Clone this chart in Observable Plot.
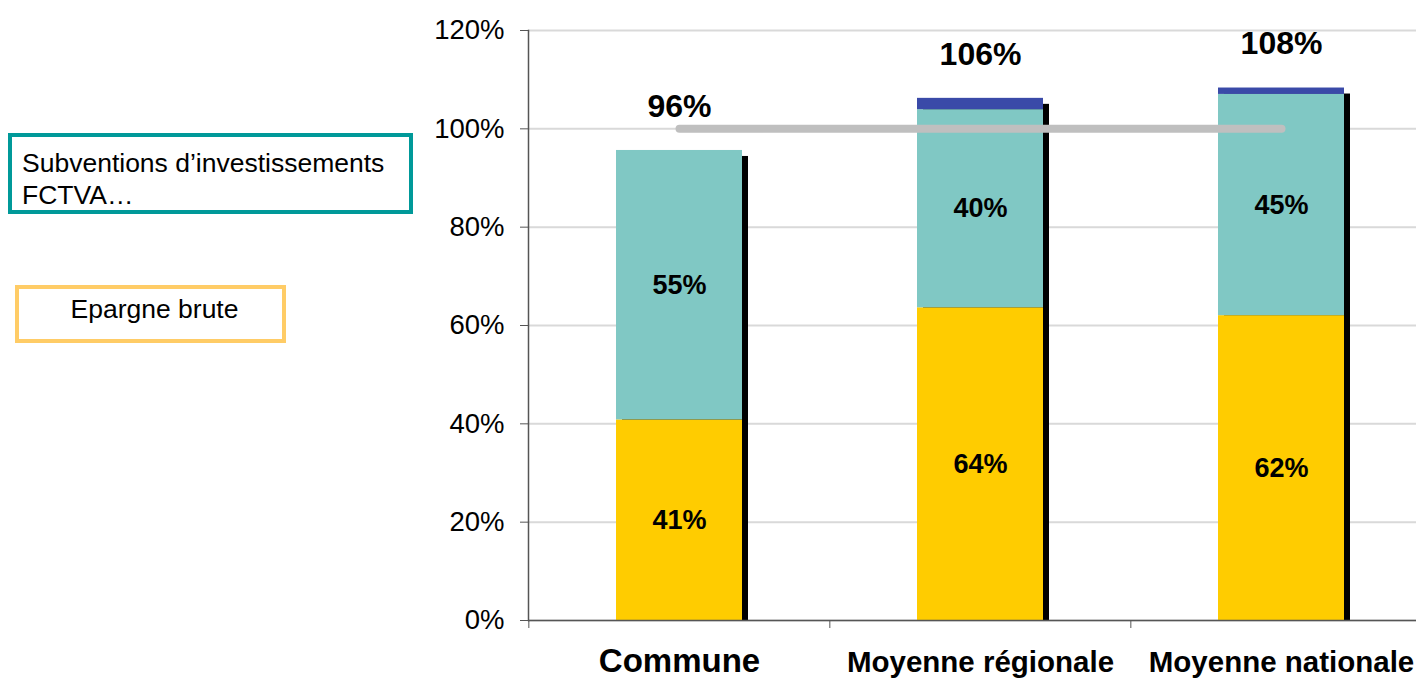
<!DOCTYPE html>
<html>
<head>
<meta charset="utf-8">
<script src="https://cdn.jsdelivr.net/npm/d3@7"></script>
<script src="https://cdn.jsdelivr.net/npm/@observablehq/plot@0.6"></script>
<style>
  html, body { margin: 0; padding: 0; background: white; }
  #wrap { position: relative; width: 1416px; height: 680px; overflow: hidden; font-family: "Liberation Sans", Arial, sans-serif; }
  .legend { position: absolute; box-sizing: border-box; background: white; font-size: 26.5px; line-height: 32px; color: black; }
  #leg1 { left: 8px; top: 133px; width: 405px; height: 81px; border: 4px solid #009999; padding: 10px 0 0 10px; }
  #leg2 { left: 15px; top: 285px; width: 271px; height: 58px; border: 4px solid #FFCC66; padding: 4px 0 0 8px; text-align: center; }
</style>
</head>
<body>
<div id="wrap">
  <div id="chart"></div>
  <div class="legend" id="leg1">Subventions d’investissements<br>FCTVA…</div>
  <div class="legend" id="leg2">Epargne brute</div>
</div>
<script>
const categories = ["Commune", "Moyenne régionale", "Moyenne nationale"];
const series = ["Epargne brute", "Subventions d’investissements FCTVA…", "Autres"];
const epargne = [40.8, 63.6, 62.0];
const subventions = [54.8, 40.3, 45.0];
const autres = [0, 2.3, 1.3];
const yTicks = [0, 20, 40, 60, 80, 100, 120];
const reference = 100;

const colors = ["#FFCC00", "#80C8C4", "#3A4AA8"];

const rows = [];
categories.forEach((c, i) => {
  rows.push({cat: c, series: series[0], value: epargne[i]});
  rows.push({cat: c, series: series[1], value: subventions[i]});
  rows.push({cat: c, series: series[2], value: autres[i]});
});
const totals = categories.map((c, i) => ({cat: c, total: epargne[i] + subventions[i] + autres[i]}));
const labelRows = rows.filter(r => r.series !== series[2]);

const xRange = [528, 1432];
const step = (xRange[1] - xRange[0]) / categories.length;

const chart = Plot.plot({
  width: 1416,
  height: 680,
  marginLeft: 528,
  marginRight: 0,
  marginTop: 30,
  marginBottom: 60,
  x: {domain: categories, range: xRange, paddingInner: 0.582, paddingOuter: 0.291, axis: null},
  y: {domain: [0, 120], axis: null},
  color: {domain: series, range: colors},
  style: {fontFamily: "'Liberation Sans', Arial, sans-serif", color: "black", background: "white", overflow: "hidden"},
  marks: [
    Plot.gridY(yTicks, {stroke: "#D9D9D9", strokeOpacity: 1, strokeWidth: 2}),
    Plot.frame({anchor: "left", stroke: "#555", strokeWidth: 1.5}),
    Plot.axisY({ticks: yTicks, tickFormat: d => d + "%", tickSize: 8, tickPadding: 16, fontSize: 27.5, stroke: "#555", fill: "black", label: null}),
    Plot.axisX({ticks: categories, tickSize: 8, text: null, dx: -step / 2, stroke: "#555", label: null}),
    Plot.barY(totals, {x: "cat", y: "total", fill: "black", dx: 6, dy: 6, clip: true}),
    Plot.barY(rows, {x: "cat", y: "value", fill: "series"}),
    Plot.ruleY([0], {stroke: "#555", strokeWidth: 1.5}),
    Plot.line(totals.filter((d, i) => i === 0 || i === categories.length - 1), {x: "cat", y: () => reference, stroke: "#BFBFBF", strokeWidth: 8, strokeLinecap: "round"}),
    Plot.text(labelRows, Plot.stackY({x: "cat", y: "value", text: d => Math.round(d.value) + "%", fontSize: 27, fontWeight: "bold", fill: "black"})),
    Plot.text(totals, {x: "cat", y: "total", text: d => Math.round(d.total) + "%", dy: -44, fontSize: 32, fontWeight: "bold", fill: "black"}),
    Plot.text(categories, {x: d => d, frameAnchor: "bottom", dy: 51, text: d => d, fontSize: d => d === categories[0] ? 33 : 29.5, fontWeight: "bold", fill: "black"})
  ]
});
document.getElementById("chart").appendChild(chart);
</script>
</body>
</html>
